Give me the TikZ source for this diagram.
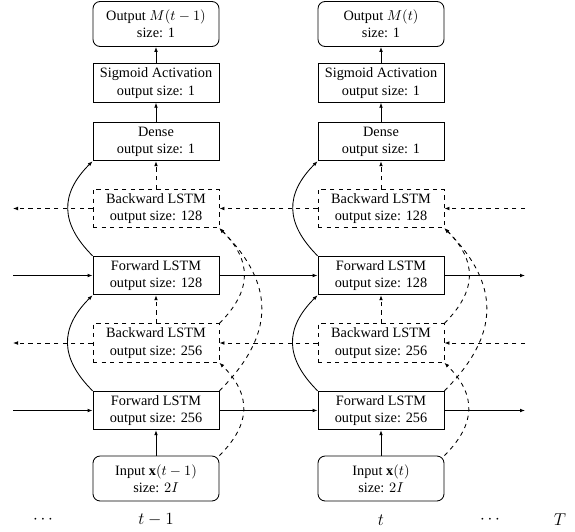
\documentclass[tikz,border=0pt]{standalone}
\usepackage{fontspec}
\setmainfont{Liberation Serif}
\usetikzlibrary{arrows.meta}
\begin{document}
\begin{tikzpicture}[x=0.7pt,y=-0.7pt,
  every node/.style={font=\normalsize},
  box/.style={draw, line width=0.6pt, minimum width=88.2pt, minimum height=27pt, align=center, inner sep=1pt},
  rbox/.style={box, rounded corners=5pt, minimum height=31.5pt},
  dbox/.style={box, dashed},
  arr/.style={line width=0.6pt, -{Latex[length=3.5pt,width=2.6pt]}},
  darr/.style={arr, dashed},
  lbl/.style={inner sep=0pt, font=\large}]
\useasboundingbox (0,0) rectangle (575,531);
\foreach \c/\x/\tl/\ix in {a/156/t-1/{t-1}, b/381/t/t}{
  \node[rbox] (out\c) at (\x,24) {Output $M(\ix)$\\size: 1};
  \node[box] (sig\c) at (\x,83) {Sigmoid Activation\\output size: 1};
  \node[box] (den\c) at (\x,141.5) {Dense\\output size: 1};
  \node[dbox] (bb\c) at (\x,208.5) {Backward LSTM\\output size: 128};
  \node[box] (fb\c) at (\x,275.5) {Forward LSTM\\output size: 128};
  \node[dbox] (ba\c) at (\x,343) {Backward LSTM\\output size: 256};
  \node[box] (fa\c) at (\x,410.5) {Forward LSTM\\output size: 256};
  \node[rbox] (in\c) at (\x,478.5) {Input $\mathbf{x}(\ix)$\\size: $2I$};
  \node[lbl] (lab\c) at (\x,520) {$\tl$};
  \draw[arr] (in\c) -- (fa\c);
  \draw[darr] (ba\c) -- (fb\c);
  \draw[darr] (bb\c) -- (den\c);
  \draw[arr] (den\c) -- (sig\c);
  \draw[arr] (sig\c) -- (out\c);
  \draw[arr] (fa\c.north west) to[out=135,in=225,looseness=1.25] (fb\c.south west);
  \draw[arr] (fb\c.north west) to[out=135,in=225,looseness=1.25] (den\c.south west);
  \draw[darr] (in\c.north east) to[out=45,in=-45,looseness=1.25] (ba\c.south east);
  \draw[darr] (ba\c.north east) to[out=45,in=-45,looseness=1.25] (bb\c.south east);
  \draw[darr] (fa\c.north east) to[out=45,in=-45,looseness=1.25] (bb\c.south east);
}
\node[lbl] (dl) at (43,520) {$\cdots$};
\node[lbl] (dr) at (490,520) {$\cdots$};
\node[lbl] (tT) at (560,520) {$T$};
% horizontal connections
\coordinate (fbL) at (13,275.5);
\coordinate (fbR) at (525,275.5);
\coordinate (faL) at (13,410.5);
\coordinate (faR) at (525,410.5);
\coordinate (bbL) at (13,208.5);
\coordinate (bbR) at (525,208.5);
\coordinate (baL) at (13,343);
\coordinate (baR) at (525,343);
\draw[arr] (fbL) -- (fba.west);
\draw[arr] (fba.east) -- (fbb.west);
\draw[arr] (fbb.east) -- (fbR);
\draw[arr] (faL) -- (faa.west);
\draw[arr] (faa.east) -- (fab.west);
\draw[arr] (fab.east) -- (faR);
\draw[darr] (bba.west) -- (bbL);
\draw[darr] (bbb.west) -- (bba.east);
\draw[darr] (bbR) -- (bbb.east);
\draw[darr] (baa.west) -- (baL);
\draw[darr] (bab.west) -- (baa.east);
\draw[darr] (baR) -- (bab.east);
\end{tikzpicture}
\end{document}
